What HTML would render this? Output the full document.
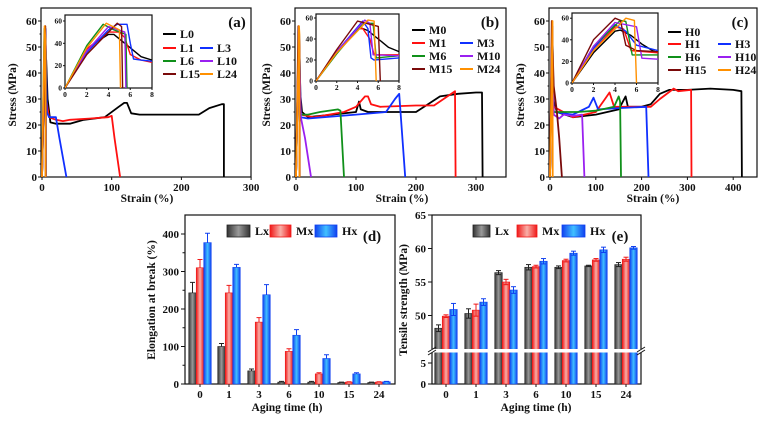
<!DOCTYPE html>
<html><head><meta charset="utf-8">
<style>
html,body{margin:0;padding:0;background:#fff;}
svg{display:block;}
text{font-family:"Liberation Serif",serif;font-weight:bold;fill:#111;}
</style></head>
<body>
<svg id="s" width="770" height="421" viewBox="0 0 770 421" xmlns="http://www.w3.org/2000/svg">
<defs>
<linearGradient id="gL" x1="0" x2="1" y1="0" y2="0"><stop offset="0" stop-color="#333"/><stop offset="0.5" stop-color="#9a9a9a"/><stop offset="1" stop-color="#333"/></linearGradient>
<linearGradient id="gM" x1="0" x2="1" y1="0" y2="0"><stop offset="0" stop-color="#f01818"/><stop offset="0.5" stop-color="#f8b0a8"/><stop offset="1" stop-color="#f01818"/></linearGradient>
<linearGradient id="gH" x1="0" x2="1" y1="0" y2="0"><stop offset="0" stop-color="#1040f0"/><stop offset="0.5" stop-color="#40c0ff"/><stop offset="1" stop-color="#1040f0"/></linearGradient>
<clipPath id="ca"><rect x="65" y="15" width="87" height="73"/></clipPath>
<clipPath id="cb"><rect x="316" y="14" width="83" height="67"/></clipPath>
<clipPath id="cc"><rect x="572" y="13" width="86" height="70"/></clipPath>
</defs>
</svg>
<script>
var S=document.getElementById('s');var out='';
function T(x,y,t,sz,anc,extra){out+='<text x="'+x+'" y="'+y+'" font-size="'+(sz||10)+'" text-anchor="'+(anc||'middle')+'" '+(extra||'')+'>'+t+'</text>';}
function L(x1,y1,x2,y2,c,w){out+='<line x1="'+x1+'" y1="'+y1+'" x2="'+x2+'" y2="'+y2+'" stroke="'+(c||'#111')+'" stroke-width="'+(w||1)+'"/>';}
function R(x,y,w,h,f,st){out+='<rect x="'+x+'" y="'+y+'" width="'+w+'" height="'+h+'" fill="'+f+'" '+(st||'')+'/>';}
var COL={k:'#000',r:'#ff1010',b:'#1030ff',g:'#10901a',p:'#9a20f0',d:'#7a0a0a',o:'#ff9000'};
function poly(pts,fx,fy,c,w,clip){var s=pts.map(function(p){return fx(p[0]).toFixed(1)+','+fy(p[1]).toFixed(1)}).join(' ');
 out+='<polyline points="'+s+'" fill="none" stroke="'+c+'" stroke-width="'+(w||1.5)+'" stroke-linejoin="round" '+(clip?'clip-path="url(#'+clip+')"':'')+'/>';}

function tensile(o){
 var fx=function(v){return o.x0+v*o.sx}, fy=function(v){return 177-v*2.6};
 R(o.x0-1,8,o.xr-o.x0+1,169,'none','stroke="#111" stroke-width="1.2"');
 for(var v=0;v<=60;v+=10){L(o.x0-1,fy(v),o.x0-4,fy(v));T(o.x0-5,fy(v)+4,v,11,'end');}
 for(var v=5;v<65;v+=10){L(o.x0-1,fy(v),o.x0-2.5,fy(v));}
 o.xt.forEach(function(v){L(fx(v),177,fx(v),180);T(fx(v),191,v,11);});
 T(o.xl,202,'Strain (%)',11.5);
 T(0,0,'Stress (MPa)',11.5,'middle','transform="translate('+(o.x0-26)+',95) rotate(-90)"');
 o.curves.forEach(function(c){poly(c[1],fx,fy,COL[c[0]],1.8);});
 var I=o.ins, ix=function(v){return I.x+v*(I.w/8)}, iy=function(v){return I.y0-v*I.s};
 R(I.x,I.top,I.w,I.y0-I.top,'#fff','stroke="#111" stroke-width="1.2"');
 for(var v=0;v<=60;v+=20){L(I.x,iy(v),I.x-2,iy(v));T(I.x-3,iy(v)+2.5,v,7.5,'end');}
 for(var v=0;v<=8;v+=2){L(ix(v),I.y0,ix(v),I.y0+2);T(ix(v),I.y0+9,v,7.5);}
 o.inc.forEach(function(c){poly(c[1],ix,iy,COL[c[0]],1.4,I.clip);});
 o.leg.forEach(function(g){L(g[0],g[1],g[0]+13,g[1],COL[g[2]],2);T(g[0]+17,g[1]+4,g[3],12,'start');});
 T(o.lab[0],o.lab[1],o.lab[2],15);
}
tensile({x0:42,sx:0.697,xr:251,xt:[0,100,200,300],xl:147,lab:[237,27,'(a)'],
 curves:[
 ['k',[[0,0],[4,48],[6,45],[8,30],[12,21],[20,20.5],[40,20.5],[60,22],[90,23],[110,27],[118,28.5],[122,28.5],[128,24.5],[140,24],[225,24],[240,26.5],[258,28],[261,28],[261,0]]],
 ['r',[[0,0],[4,50],[6,30],[10,23],[20,22],[30,21.5],[40,22],[70,22.5],[95,23],[100,23.5],[104,15],[112,0]]],
 ['b',[[0,0],[5,57],[6,40],[7,25],[10,23],[20,23],[25,15],[35,0]]],
 ['g',[[0,0],[3.5,57],[5.6,48],[5.7,0]]],['p',[[0,0],[4,55],[5.5,50],[5.6,0]]],
 ['d',[[0,0],[4.8,58],[5.2,50],[5.3,0]]],['o',[[0,0],[3.8,58],[5,52],[5.1,0]]]],
 ins:{x:65,w:87,top:15,y0:88,s:1.117,clip:'ca'},
 inc:[
 ['k',[[0,0],[1,17],[2,32],[3,42],[4,48],[4.5,48],[5,44],[6,36],[7,28],[8,25]]],
 ['r',[[0,0],[2,35],[4,50],[5,50],[5.5,45],[6,30],[7,25],[8,23]]],
 ['b',[[0,0],[2,32],[4,52],[4.8,57],[5.7,57],[6,40],[6.3,26],[7,25],[8,24]]],
 ['g',[[0,0],[2,38],[3.5,57],[4.5,52],[5.6,48],[5.7,0]]],
 ['p',[[0,0],[2,33],[4,55],[5.5,50],[5.6,0]]],
 ['d',[[0,0],[2,30],[4,50],[4.8,58],[5.2,55],[5.3,0]]],
 ['o',[[0,0],[2,36],[3.8,58],[5,52],[5.1,0]]]],
 leg:[[163,34,'k','L0'],[163,48,'r','L1'],[200,48,'b','L3'],[163,61,'g','L6'],[200,61,'p','L10'],[163,74,'d','L15'],[200,74,'o','L24']]});
tensile({x0:296,sx:0.6,xr:506,xt:[0,100,200,300],xl:402,lab:[490,27,'(b)'],
 curves:[
 ['k',[[0,0],[4,50],[6,35],[10,25],[20,23],[60,24],[100,25],[105,29],[108,26],[120,25],[150,25],[200,25],[220,28],[240,31],[270,32],[300,32.5],[310,32.5],[311,0]]],
 ['r',[[0,0],[4,50],[8,24],[30,23],[80,25],[100,27],[115,31],[120,31],[125,28],[140,27],[200,27.5],[230,27.5],[265,33],[266,0]]],
 ['b',[[0,0],[5,57],[8,23],[20,22.5],[100,24],[150,25],[165,30],[172,32],[182,0]]],
 ['g',[[0,0],[5,57],[8,24],[20,24],[40,25],[70,26],[74,25.5],[80,0]]],
 ['p',[[0,0],[5,57],[8,23],[15,15],[25,0]]],
 ['d',[[0,0],[4,58],[6,50],[6.2,0]]],['o',[[0,0],[5,58],[5.7,55],[5.8,0]]]],
 ins:{x:316,w:83,top:14,y0:81,s:1.05,clip:'cb'},
 inc:[
 ['k',[[0,0],[2,28],[4,50],[4.5,50],[5,48],[6,40],[7,32],[8,28]]],
 ['r',[[0,0],[2,28],[4,50],[4.5,50],[5.2,40],[5.6,25],[8,25]]],
 ['b',[[0,0],[2,28],[4.5,57],[5,50],[5.3,22],[5.6,20],[8,22]]],
 ['g',[[0,0],[2,26],[4.5,55],[5.5,55],[5.8,22],[8,24]]],
 ['p',[[0,0],[2,28],[4.7,58],[5.2,55],[5.5,25],[8,24]]],
 ['d',[[0,0],[2,30],[4,57],[6,52],[6.2,0]]],
 ['o',[[0,0],[2,27],[5,58],[5.6,57],[5.8,0]]]],
 leg:[[412,30,'k','M0'],[412,43,'r','M1'],[460,43,'b','M3'],[412,56,'g','M6'],[460,56,'p','M10'],[412,69,'d','M15'],[460,69,'o','M24']]});
tensile({x0:550,sx:0.458,xr:757,xt:[0,100,200,300,400],xl:653,lab:[740,27,'(c)'],
 curves:[
 ['k',[[0,0],[4,50],[7,30],[15,25],[50,23],[100,24],[150,26],[165,31],[170,27],[200,27],[220,28],[240,32],[260,33.5],[300,33.5],[350,34],[400,33.5],[418,33],[419,0]]],
 ['r',[[0,0],[4,50],[8,27],[50,23],[100,25],[120,30],[130,32.5],[140,27],[180,27],[220,27],[240,30],[270,34],[280,33],[308,33.5],[309,0]]],
 ['b',[[0,0],[5,58],[8,25],[50,24],[85,27],[95,30.5],[105,26],[150,26.5],[210,27],[215,0]]],
 ['g',[[0,0],[5,58],[8,25],[20,25],[60,25],[100,25.5],[140,27],[150,31],[153,29],[155,0]]],
 ['p',[[0,0],[5,58],[8,24],[20,22.5],[30,24],[50,23.5],[70,24],[75,0]]],
 ['d',[[0,0],[4,60],[8,35],[15,25],[20,15],[26,0]]],
 ['o',[[0,0],[5.5,60],[6,0]]]],
 ins:{x:572,w:86,top:13,y0:83,s:1.08,clip:'cc'},
 inc:[
 ['k',[[0,0],[2,28],[4,48],[4.5,49],[5.5,44],[6.5,36],[7.5,30],[8,28]]],
 ['r',[[0,0],[2,30],[4,52],[4.8,50],[5.5,30],[8,28]]],
 ['b',[[0,0],[2,32],[4,54],[5,48],[6,35],[8,30]]],
 ['g',[[0,0],[2,34],[4.5,58],[5,57],[5.6,26],[8,26]]],
 ['p',[[0,0],[2,34],[4,56],[6,52],[6.5,23],[8,22]]],
 ['d',[[0,0],[2,40],[4,60],[4.5,58],[5,35],[6,30],[8,29]]],
 ['o',[[0,0],[2,30],[5,60],[5.8,58],[6,0]]]],
 leg:[[668,32,'k','H0'],[668,44,'r','H1'],[718,44,'b','H3'],[668,57,'g','H6'],[718,57,'p','H10'],[668,70,'d','H15'],[718,70,'o','H24']]});

var cats=['0','1','3','6','10','15','24'];
function legendBars(xs,lab){var g=['gL','gM','gH'],t=['Lx','Mx','Hx'],c=['#222','#f01818','#1040f0'];
 xs.forEach(function(x,i){R(x[0],225,x[1]-x[0],12,'url(#'+g[i]+')','stroke="'+c[i]+'" stroke-width="0.8"');T(x[1]+5,235,t[i],12,'start');});
 T(lab[0],lab[1],lab[2],15);}
(function(){var x0=185,x1=395,yb=384,sc=0.375;var fy=function(v){return yb-v*sc};
 R(x0,215,x1-x0,169,'none','stroke="#111" stroke-width="1.2"');
 for(var v=0;v<=400;v+=100){L(x0,fy(v),x0-4,fy(v));T(x0-6,fy(v)+4,v,11,'end');}
 for(var v=50;v<450;v+=100){L(x0,fy(v),x0-2.5,fy(v));}
 var cx=[200,229,259,289,319,349,379];
 var D=[[243,100,35,5,5,4,4],[310,243,165,87,27,5,5],[377,311,238,130,68,27,6]];
 var E=[[28,8,5,2,2,1,1],[22,20,12,7,3,1,1],[25,8,27,15,10,3,1]];
 var G=['gL','gM','gH'],C=['#222','#f01818','#1040f0'];
 cx.forEach(function(c,i){L(c,yb,c,yb+3);T(c,398,cats[i],11);
  for(var k=0;k<3;k++){var bx=c-11.25+k*7.5;var v=D[k][i];R(bx,fy(v),7.5,v*sc,'url(#'+G[k]+')','stroke="'+C[k]+'" stroke-width="0.6"');
   var xm=bx+3.75;L(xm,fy(v),xm,fy(v+E[k][i]),C[k],1);L(xm-2.5,fy(v+E[k][i]),xm+2.5,fy(v+E[k][i]),C[k],1);}});
 T(287,411,'Aging time (h)',11.5);
 T(0,0,'Elongation at break (%)',11.5,'middle','transform="translate(155,300) rotate(-90)"');
 legendBars([[227,250],[270,291],[315,337]],[372,241,'(d)']);
})();
(function(){var x0=432,x1=641,yb=384;
 var fy=function(v){return v>=45?215+(65-v)*6.7:yb-v*4.2};
 R(x0,215,x1-x0,169,'none','stroke="#111" stroke-width="1.2"');
 [50,55,60,65].forEach(function(v){L(x0,fy(v),x0-4,fy(v));T(x0-6,fy(v)+4,v,11,'end');});
 [0,5].forEach(function(v){L(x0,fy(v),x0-4,fy(v));T(x0-6,fy(v)+4,v,11,'end');});
 var cx=[446,476,506,536,566,596,626];
 var D=[[48.1,50.3,56.4,57.2,57.2,57.4,57.6],[49.9,50.8,55.0,57.3,58.2,58.3,58.4],[50.9,52.0,53.8,58.1,59.3,59.8,60.1]];
 var E=[[0.5,0.7,0.3,0.4,0.2,0.1,0.3],[0.2,0.9,0.4,0.2,0.2,0.2,0.3],[0.9,0.5,0.5,0.4,0.3,0.4,0.2]];
 var G=['gL','gM','gH'],C=['#222','#f01818','#1040f0'];
 cx.forEach(function(c,i){L(c,yb,c,yb+3);T(c,398,cats[i],11);
  for(var k=0;k<3;k++){var bx=c-11.25+k*7.5;var v=D[k][i];R(bx,fy(v),7.5,yb-fy(v),'url(#'+G[k]+')','stroke="'+C[k]+'" stroke-width="0.6"');
   var xm=bx+3.75;L(xm,fy(v-E[k][i]),xm,fy(v+E[k][i]),C[k],1);L(xm-2.5,fy(v+E[k][i]),xm+2.5,fy(v+E[k][i]),C[k],1);L(xm-2.5,fy(v-E[k][i]),xm+2.5,fy(v-E[k][i]),C[k],1);}});
 R(428,349,217,3.5,'#fff');
 L(428,352,436,347,'#111',1);L(428,355,436,350,'#111',1);
 L(637,352,645,347,'#111',1);L(637,355,645,350,'#111',1);
 T(536,411,'Aging time (h)',11.5);
 T(0,0,'Tensile strength (MPa)',11.5,'middle','transform="translate(407,300) rotate(-90)"');
 legendBars([[473,490],[517,537],[562,585]],[620,241,'(e)']);
})();
S.insertAdjacentHTML('beforeend',out);
</script>
</body></html>
